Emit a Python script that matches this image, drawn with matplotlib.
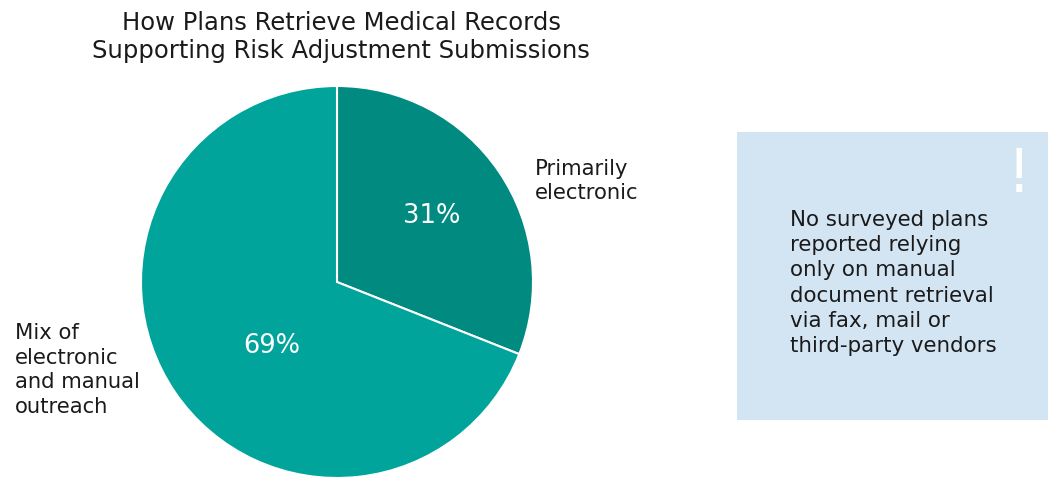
import matplotlib
matplotlib.use("Agg")
import matplotlib.pyplot as plt
from matplotlib.patches import Rectangle

title = "How Plans Retrieve Medical Records\nSupporting Risk Adjustment Submissions"
categories = ["Primarily\nelectronic", "Mix of\nelectronic\nand manual\noutreach"]
values = [31, 69]
pct_labels = ["31%", "69%"]
colors = ["#008A80", "#00A49A"]
note = "No surveyed plans\nreported relying\nonly on manual\ndocument retrieval\nvia fax, mail or\nthird-party vendors"

W, H = 1061, 495
fig = plt.figure(figsize=(W / 100, H / 100), dpi=100)
plt.rcParams['font.family'] = ['DejaVu Sans']

cx, cy, r = 337, 282, 196
ax = fig.add_axes([(cx - r) / W, (H - cy - r) / H, 2 * r / W, 2 * r / H])
wedges, _ = ax.pie(values, colors=colors, startangle=90, counterclock=False,
                   radius=1, wedgeprops=dict(edgecolor="white", linewidth=1.5))
ax.set_xlim(-1, 1)
ax.set_ylim(-1, 1)
ax.set_aspect("equal")
ax.axis("off")

def px(x, y):
    return x / W, 1 - y / H

fig.text(*px(341, 37), title, ha="center", va="center", fontsize=17.5,
         color="#1a1a1a", linespacing=1.25)

fig.text(*px(432, 216), pct_labels[0], ha="center", va="center", fontsize=18.5, color="white")
fig.text(*px(272, 346), pct_labels[1], ha="center", va="center", fontsize=18.5, color="white")

fig.text(*px(535, 181), categories[0], ha="left", va="center", fontsize=15.2,
         color="#1a1a1a", linespacing=1.3)
fig.text(*px(15, 370), categories[1], ha="left", va="center", fontsize=15.2,
         color="#1a1a1a", linespacing=1.3)

box_ax = fig.add_axes([0, 0, 1, 1], zorder=-1)
box_ax.set_xlim(0, W)
box_ax.set_ylim(H, 0)
box_ax.axis("off")
box_ax.add_patch(Rectangle((737, 132), 311, 288, facecolor="#D3E4F3", edgecolor="none"))

fig.text(*px(1019, 175), "!", ha="center", va="center", fontsize=44, color="white",
         family=["DejaVu Sans"])
fig.text(*px(790, 283), note, ha="left", va="center", fontsize=15.4,
         color="#1a1a1a", linespacing=1.32)

fig.savefig("out.png", dpi=100)
